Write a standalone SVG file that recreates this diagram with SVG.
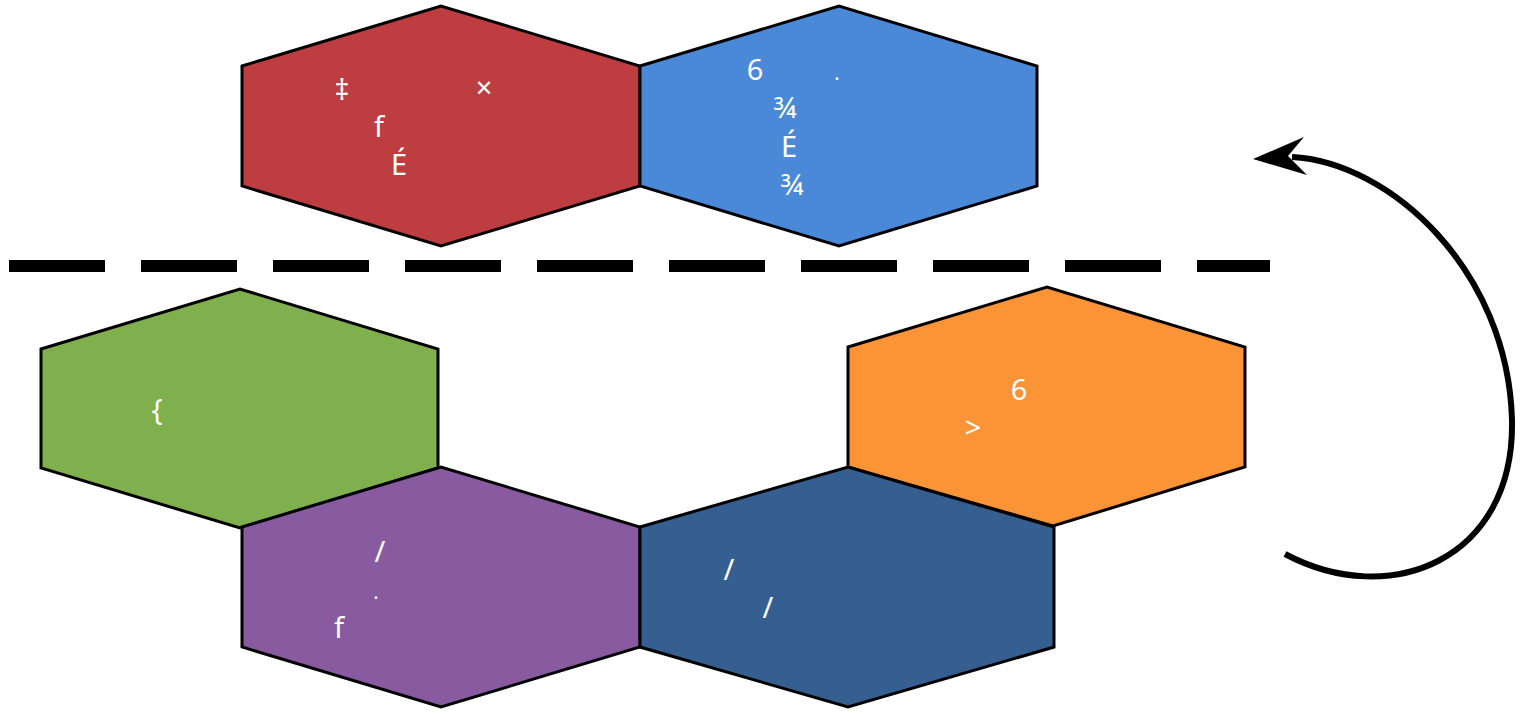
<svg xmlns="http://www.w3.org/2000/svg" width="1527" height="714" viewBox="0 0 1527 714">
<defs>
<style>
.hex{stroke:#000;stroke-width:3;stroke-linejoin:miter}
.t{fill:#fff;font-family:"Noto Sans","DejaVu Sans",sans-serif;font-size:29px;text-anchor:middle}
.conn{fill:none;stroke:#000}
</style>
</defs>
<rect width="1527" height="714" fill="#fff"/>
<g id="node-red">
<polygon class="hex" fill="#be3d40" points="242,66 441,6 640,66 640,186 441,246 242,186"/>
<text class="t" x="342" y="100">‡</text>
<text class="t" x="484" y="98">×</text>
<text class="t" x="379" y="137">f</text>
<text class="t" x="399" y="175">É</text>
</g>
<g id="node-blue">
<polygon class="hex" fill="#4a89d8" points="640,66 839,6 1037,66 1037,186 839,246 640,186"/>
<text class="t" x="755" y="80">6</text>
<text class="t" x="837" y="80" style="font-size:20px">.</text>
<text class="t" x="785" y="118">¾</text>
<text class="t" x="789" y="157">É</text>
<text class="t" x="792" y="195">¾</text>
</g>
<g id="node-green">
<polygon class="hex" fill="#80af4d" points="41,349 240,289 438,349 438,468 240,528 41,468"/>
<text class="t" x="157" y="420">{</text>
</g>
<g id="node-purple">
<polygon class="hex" fill="#885aa0" points="242,527 441,467 640,527 640,647 441,707 242,647"/>
<text class="t" x="380" y="562">/</text>
<text class="t" x="376" y="599" style="font-size:20px">.</text>
<text class="t" x="339" y="638">f</text>
</g>
<g id="node-orange">
<polygon class="hex" fill="#fb9337" points="848,347 1047,287 1245,347 1245,467 1053,526 848,467"/>
<text class="t" x="1019" y="400">6</text>
<text class="t" x="973" y="438">&gt;</text>
</g>
<g id="node-darkblue">
<polygon class="hex" fill="#365f91" points="640,527 848,467 1054,527 1054,647 848,707 640,647"/>
<text class="t" x="729" y="580">/</text>
<text class="t" x="768" y="618">/</text>
</g>
<g id="connectors">
<line class="conn" x1="9" y1="266" x2="1270" y2="266" stroke-width="12" stroke-dasharray="96 36"/>
<path class="conn" stroke-width="6" d="M1285,554 C1390,610 1515,560 1512,420 C1508,270 1390,162 1292,157"/>
<polygon fill="#000" points="1253,159 1304,137 1288,156 1307,175"/>
</g>
</svg>
